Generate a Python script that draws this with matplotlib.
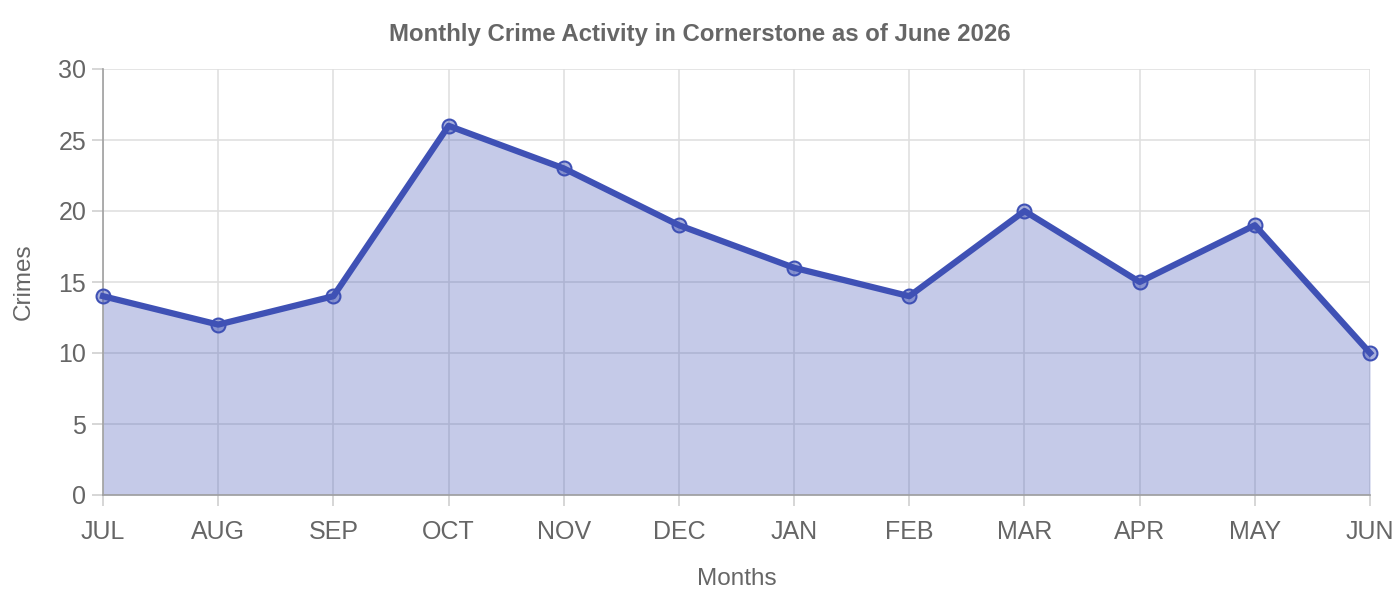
import matplotlib.pyplot as plt

# fonts / colours close to the chart.js look
plt.rcParams['font.family'] = ['Liberation Sans', 'DejaVu Sans']
text_grey = '#666666'
line_blue = '#3f51b5'

months = ['JUL', 'AUG', 'SEP', 'OCT', 'NOV', 'DEC', 'JAN', 'FEB', 'MAR', 'APR', 'MAY', 'JUN']
crimes = [14, 12, 14, 26, 23, 19, 16, 14, 20, 15, 19, 10]
y_ticks = [0, 5, 10, 15, 20, 25, 30]

fig = plt.figure(figsize=(14, 6), dpi=100)
ax = fig.add_axes([0.0736, 0.175, 0.9050, 0.710])

x = list(range(len(months)))
ax.fill_between(x, crimes, 0, color=line_blue, alpha=0.3, linewidth=0, zorder=2)
ax.plot(x, crimes, color=line_blue, linewidth=4.5, zorder=3, solid_joinstyle='round',
        clip_on=False)
ax.plot(x, crimes, linestyle='none', marker='o', markersize=10,
        markerfacecolor=(63/255, 81/255, 181/255, 0.45), markeredgecolor=line_blue,
        markeredgewidth=1.5, zorder=4, clip_on=False)

ax.set_xlim(0, len(months) - 1)
ax.set_ylim(0, 30)
ax.set_xticks(x)
ax.set_xticklabels(months)
ax.set_yticks(y_ticks)

ax.set_axisbelow(True)
ax.grid(True, color='#e0e0e0', linewidth=1.2, zorder=0)
ax.tick_params(axis='both', colors='#d0d0d0', labelcolor=text_grey, labelsize=18,
               length=8, width=1.2)
ax.tick_params(axis='x', pad=10)
ax.tick_params(axis='y', pad=4)

for side in ['top', 'right']:
    ax.spines[side].set_visible(False)
ax.spines['left'].set_color('#a0a0a0')
ax.spines['bottom'].set_color('#a0a0a0')
ax.spines['left'].set_linewidth(1.2)
ax.spines['bottom'].set_linewidth(1.2)

ax.set_xlabel('Months', fontsize=17.5, color=text_grey, labelpad=17)
ax.set_ylabel('Crimes', fontsize=17.5, color=text_grey, labelpad=17)
fig.text(0.5, 1 - 34/600, 'Monthly Crime Activity in Cornerstone as of June 2026',
         ha='center', va='center', fontsize=17.3, fontweight='bold', color=text_grey)

fig.savefig('out.png', dpi=100)
